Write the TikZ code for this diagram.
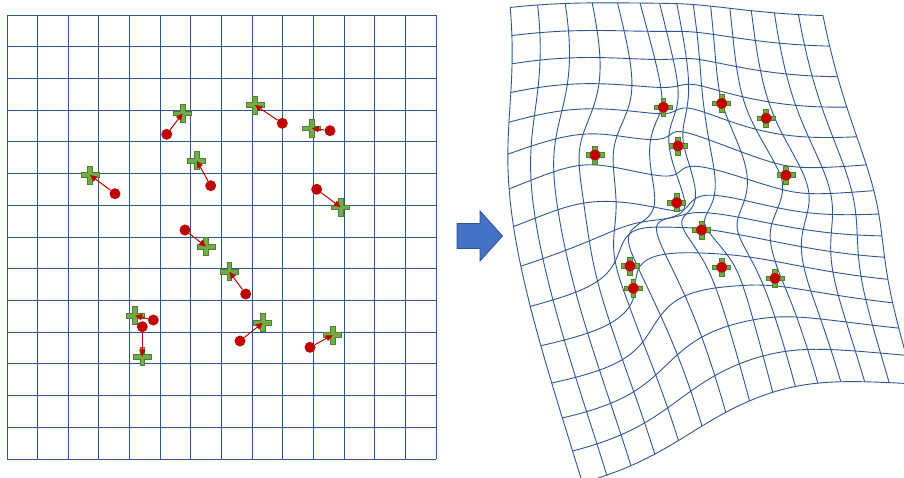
\documentclass[tikz,border=0pt]{standalone}
\usetikzlibrary{arrows.meta}
\definecolor{gridblue}{HTML}{2F5597}
\definecolor{dotred}{HTML}{C00000}
\definecolor{plusgreen}{HTML}{70AD47}
\definecolor{plusdark}{HTML}{507E32}
\definecolor{bigblue}{HTML}{4472C4}
\definecolor{bigdark}{HTML}{2F528F}
\tikzset{
  gridL/.style={draw=gridblue, line width=1pt},
  gridR/.style={draw=gridblue, line width=0.9pt, line join=round},
  reddot/.style={circle, fill=dotred, inner sep=0pt, minimum size=11pt},
  plusmark/.style={rectangle, inner sep=0pt, minimum size=21pt, path picture={
      \draw[plusdark, fill=plusgreen, line width=0.7pt, shift={(path picture bounding box.center)}]
        (-2.4,-9) -- (2.4,-9) -- (2.4,-2.4) -- (9,-2.4) -- (9,2.4) -- (2.4,2.4) -- (2.4,9)
        -- (-2.4,9) -- (-2.4,2.4) -- (-9,2.4) -- (-9,-2.4) -- (-2.4,-2.4) -- cycle;}},
  movearrow/.style={draw=dotred, line width=1pt, -{Triangle[length=7pt,width=6pt]}},
}
\newcommand\tpsdrawline[1]{\draw[gridR] plot[smooth] coordinates {#1};}

\ExplSyntaxOn
\fparray_new:Nn \g_tps_px_fparray {12}
\fparray_new:Nn \g_tps_py_fparray {12}
\fparray_new:Nn \g_tps_qx_fparray {12}
\fparray_new:Nn \g_tps_qy_fparray {12}
\fparray_new:Nn \g_tps_A_fparray {255}
\fparray_new:Nn \g_tps_cx_fparray {15}
\fparray_new:Nn \g_tps_cy_fparray {15}
\int_new:N \l_tps_p_int
\fp_new:N \l_tps_f_fp
\fp_new:N \l_tps_best_fp
\fp_new:N \l_tps_s_fp
\fp_new:N \l_tps_X_fp
\fp_new:N \l_tps_Y_fp
\fp_new:N \g_tps_dxa_fp \fp_new:N \g_tps_dxb_fp \fp_new:N \g_tps_dxc_fp
\fp_new:N \g_tps_dya_fp \fp_new:N \g_tps_dyb_fp \fp_new:N \g_tps_dyc_fp
\clist_map_inline:nn {xx,xy,x,yy,y,n,xu,yu,u,xv,yv,v,det,ca,cb,cc,cd,ce,cf}
 { \fp_new:c {g_tps_s#1_fp} }
\tl_new:N \g_tps_path_tl
\tl_new:N \l_tps_a_tl
\tl_new:N \l_tps_b_tl
\tl_new:N \l_tps_k_tl
\tl_new:N \l_tps_r_tl
\tl_new:N \l_tps_c_tl
\tl_new:N \l_tps_s_tl
\tl_new:N \l_tps_g_tl

\cs_new:Npn \tps_idx:nn #1#2 { ((#1)-1)*17+(#2) }
\cs_new:Npn \tps_A:nn #1#2 { \fparray_item:Nn \g_tps_A_fparray { \tps_idx:nn {#1}{#2} } }
\cs_new_protected:Npn \tps_Aset:nnn #1#2#3
 { \fparray_gset:Nnn \g_tps_A_fparray { \tps_idx:nn {#1}{#2} } {#3} }
\cs_new:Npn \tps_U:n #1 { ( 0.5 * (#1) * ln ( (#1) + 1e-9 ) ) }

\cs_new_protected:Npn \tps_point:nnnnn #1#2#3#4#5
 {
  \fparray_gset:Nnn \g_tps_px_fparray {#1} {#2}
  \fparray_gset:Nnn \g_tps_py_fparray {#1} {#3}
  \fparray_gset:Nnn \g_tps_qx_fparray {#1} {#4}
  \fparray_gset:Nnn \g_tps_qy_fparray {#1} {#5}
 }

\cs_new_protected:Npn \tps_build:
 {
  \int_step_variable:nNn {12} \l_tps_a_tl
   {
    \int_step_variable:nNn {12} \l_tps_b_tl
     {
      \tps_Aset:nnn {\l_tps_a_tl} {\l_tps_b_tl}
       { \tps_U:n { (\fparray_item:Nn \g_tps_px_fparray {\l_tps_a_tl} - \fparray_item:Nn \g_tps_px_fparray {\l_tps_b_tl})^2
                  + (\fparray_item:Nn \g_tps_py_fparray {\l_tps_a_tl} - \fparray_item:Nn \g_tps_py_fparray {\l_tps_b_tl})^2 } }
     }
    \tps_Aset:nnn {\l_tps_a_tl} {13} {1}
    \tps_Aset:nnn {\l_tps_a_tl} {14} { \fparray_item:Nn \g_tps_px_fparray {\l_tps_a_tl} }
    \tps_Aset:nnn {\l_tps_a_tl} {15} { \fparray_item:Nn \g_tps_py_fparray {\l_tps_a_tl} }
    \tps_Aset:nnn {13} {\l_tps_a_tl} {1}
    \tps_Aset:nnn {14} {\l_tps_a_tl} { \fparray_item:Nn \g_tps_px_fparray {\l_tps_a_tl} }
    \tps_Aset:nnn {15} {\l_tps_a_tl} { \fparray_item:Nn \g_tps_py_fparray {\l_tps_a_tl} }
    \tps_Aset:nnn {\l_tps_a_tl} {16} { \fparray_item:Nn \g_tps_qx_fparray {\l_tps_a_tl} }
    \tps_Aset:nnn {\l_tps_a_tl} {17} { \fparray_item:Nn \g_tps_qy_fparray {\l_tps_a_tl} }
   }
 }

\cs_new_protected:Npn \tps_solve:
 {
  \int_step_variable:nNn {15} \l_tps_k_tl
   {
    \int_set:Nn \l_tps_p_int {\l_tps_k_tl}
    \fp_set:Nn \l_tps_best_fp { abs( \tps_A:nn {\l_tps_k_tl}{\l_tps_k_tl} ) }
    \int_step_variable:nnnNn {\l_tps_k_tl + 1} {1} {15} \l_tps_r_tl
     {
      \fp_compare:nNnT { abs( \tps_A:nn {\l_tps_r_tl}{\l_tps_k_tl} ) } > \l_tps_best_fp
       {
        \int_set:Nn \l_tps_p_int {\l_tps_r_tl}
        \fp_set:Nn \l_tps_best_fp { abs( \tps_A:nn {\l_tps_r_tl}{\l_tps_k_tl} ) }
       }
     }
    \int_compare:nNnF {\l_tps_p_int} = {\l_tps_k_tl}
     {
      \int_step_variable:nNn {17} \l_tps_c_tl
       {
        \fp_set:Nn \l_tps_s_fp { \tps_A:nn {\l_tps_k_tl}{\l_tps_c_tl} }
        \tps_Aset:nnn {\l_tps_k_tl}{\l_tps_c_tl} { \tps_A:nn {\l_tps_p_int}{\l_tps_c_tl} }
        \tps_Aset:nnn {\l_tps_p_int}{\l_tps_c_tl} { \l_tps_s_fp }
       }
     }
    \int_step_variable:nnnNn {\l_tps_k_tl + 1} {1} {15} \l_tps_r_tl
     {
      \fp_set:Nn \l_tps_f_fp { \tps_A:nn {\l_tps_r_tl}{\l_tps_k_tl} / \tps_A:nn {\l_tps_k_tl}{\l_tps_k_tl} }
      \int_step_variable:nnnNn {\l_tps_k_tl} {1} {17} \l_tps_c_tl
       {
        \tps_Aset:nnn {\l_tps_r_tl}{\l_tps_c_tl}
         { \tps_A:nn {\l_tps_r_tl}{\l_tps_c_tl} - \l_tps_f_fp * \tps_A:nn {\l_tps_k_tl}{\l_tps_c_tl} }
       }
     }
   }
  \int_step_variable:nnnNn {15} {-1} {1} \l_tps_k_tl
   {
    \fp_set:Nn \l_tps_X_fp { \tps_A:nn {\l_tps_k_tl}{16} }
    \fp_set:Nn \l_tps_Y_fp { \tps_A:nn {\l_tps_k_tl}{17} }
    \int_step_variable:nnnNn {\l_tps_k_tl + 1} {1} {15} \l_tps_c_tl
     {
      \fp_sub:Nn \l_tps_X_fp { \tps_A:nn {\l_tps_k_tl}{\l_tps_c_tl} * \fparray_item:Nn \g_tps_cx_fparray {\l_tps_c_tl} }
      \fp_sub:Nn \l_tps_Y_fp { \tps_A:nn {\l_tps_k_tl}{\l_tps_c_tl} * \fparray_item:Nn \g_tps_cy_fparray {\l_tps_c_tl} }
     }
    \fparray_gset:Nnn \g_tps_cx_fparray {\l_tps_k_tl} { \l_tps_X_fp / \tps_A:nn {\l_tps_k_tl}{\l_tps_k_tl} }
    \fparray_gset:Nnn \g_tps_cy_fparray {\l_tps_k_tl} { \l_tps_Y_fp / \tps_A:nn {\l_tps_k_tl}{\l_tps_k_tl} }
   }
 }

\cs_new_protected:Npn \tps_identity:
 {
  \fp_gset:Nn \g_tps_dxa_fp {1} \fp_gset:Nn \g_tps_dxb_fp {0} \fp_gset:Nn \g_tps_dxc_fp {0}
  \fp_gset:Nn \g_tps_dya_fp {0} \fp_gset:Nn \g_tps_dyb_fp {1} \fp_gset:Nn \g_tps_dyc_fp {0}
 }

\cs_new_protected:Npn \tps_map:nn #1#2
 {
  \fp_set:Nn \l_tps_X_fp { \fparray_item:Nn \g_tps_cx_fparray {13} + \fparray_item:Nn \g_tps_cx_fparray {14} * (#1) + \fparray_item:Nn \g_tps_cx_fparray {15} * (#2) }
  \fp_set:Nn \l_tps_Y_fp { \fparray_item:Nn \g_tps_cy_fparray {13} + \fparray_item:Nn \g_tps_cy_fparray {14} * (#1) + \fparray_item:Nn \g_tps_cy_fparray {15} * (#2) }
  \int_step_variable:nNn {12} \l_tps_a_tl
   {
    \fp_set:Nn \l_tps_f_fp { \tps_U:n { ((#1) - \fparray_item:Nn \g_tps_px_fparray {\l_tps_a_tl})^2 + ((#2) - \fparray_item:Nn \g_tps_py_fparray {\l_tps_a_tl})^2 } }
    \fp_add:Nn \l_tps_X_fp { \fparray_item:Nn \g_tps_cx_fparray {\l_tps_a_tl} * \l_tps_f_fp }
    \fp_add:Nn \l_tps_Y_fp { \fparray_item:Nn \g_tps_cy_fparray {\l_tps_a_tl} * \l_tps_f_fp }
   }
  \fp_set:Nn \l_tps_s_fp { \l_tps_X_fp }
  \fp_set:Nn \l_tps_X_fp { \g_tps_dxa_fp * \l_tps_s_fp + \g_tps_dxb_fp * \l_tps_Y_fp + \g_tps_dxc_fp }
  \fp_set:Nn \l_tps_Y_fp { \g_tps_dya_fp * \l_tps_s_fp + \g_tps_dyb_fp * \l_tps_Y_fp + \g_tps_dyc_fp }
 }

% least-squares affine display fit
\cs_new_protected:Npn \tps_fitzero:
 {
  \clist_map_inline:nn {xx,xy,x,yy,y,n,xu,yu,u,xv,yv,v} { \fp_gzero:c {g_tps_s##1_fp} }
 }
\cs_new_protected:Npn \tps_fitraw:nnnnn #1#2#3#4#5
 {
  \fp_gadd:Nn \g_tps_sxx_fp { (#5) * (#1) * (#1) }
  \fp_gadd:Nn \g_tps_sxy_fp { (#5) * (#1) * (#2) }
  \fp_gadd:Nn \g_tps_sx_fp  { (#5) * (#1) }
  \fp_gadd:Nn \g_tps_syy_fp { (#5) * (#2) * (#2) }
  \fp_gadd:Nn \g_tps_sy_fp  { (#5) * (#2) }
  \fp_gadd:Nn \g_tps_sn_fp  { (#5) }
  \fp_gadd:Nn \g_tps_sxu_fp { (#5) * (#1) * (#3) }
  \fp_gadd:Nn \g_tps_syu_fp { (#5) * (#2) * (#3) }
  \fp_gadd:Nn \g_tps_su_fp  { (#5) * (#3) }
  \fp_gadd:Nn \g_tps_sxv_fp { (#5) * (#1) * (#4) }
  \fp_gadd:Nn \g_tps_syv_fp { (#5) * (#2) * (#4) }
  \fp_gadd:Nn \g_tps_sv_fp  { (#5) * (#4) }
 }
\cs_new_protected:Npn \tps_fitpt:nnnn #1#2#3#4
 {
  \tps_map:nn { 7 + 429 * (#1) / 14 } { 15 + 444 * (#2) / 14 }
  \tps_fitraw:nnnnn { \l_tps_X_fp } { \l_tps_Y_fp } {#3} {#4} {1}
 }
\cs_new_protected:Npn \tps_fitsolve:
 {
  \fp_gset:Nn \g_tps_sca_fp { \g_tps_syy_fp * \g_tps_sn_fp - \g_tps_sy_fp * \g_tps_sy_fp }
  \fp_gset:Nn \g_tps_scb_fp { \g_tps_sx_fp * \g_tps_sy_fp - \g_tps_sxy_fp * \g_tps_sn_fp }
  \fp_gset:Nn \g_tps_scc_fp { \g_tps_sxy_fp * \g_tps_sy_fp - \g_tps_sx_fp * \g_tps_syy_fp }
  \fp_gset:Nn \g_tps_scd_fp { \g_tps_sxx_fp * \g_tps_sn_fp - \g_tps_sx_fp * \g_tps_sx_fp }
  \fp_gset:Nn \g_tps_sce_fp { \g_tps_sxy_fp * \g_tps_sx_fp - \g_tps_sxx_fp * \g_tps_sy_fp }
  \fp_gset:Nn \g_tps_scf_fp { \g_tps_sxx_fp * \g_tps_syy_fp - \g_tps_sxy_fp * \g_tps_sxy_fp }
  \fp_gset:Nn \g_tps_sdet_fp { \g_tps_sxx_fp * \g_tps_sca_fp + \g_tps_sxy_fp * \g_tps_scb_fp + \g_tps_sx_fp * \g_tps_scc_fp }
  \fp_gset:Nn \g_tps_dxa_fp { ( \g_tps_sca_fp * \g_tps_sxu_fp + \g_tps_scb_fp * \g_tps_syu_fp + \g_tps_scc_fp * \g_tps_su_fp ) / \g_tps_sdet_fp }
  \fp_gset:Nn \g_tps_dxb_fp { ( \g_tps_scb_fp * \g_tps_sxu_fp + \g_tps_scd_fp * \g_tps_syu_fp + \g_tps_sce_fp * \g_tps_su_fp ) / \g_tps_sdet_fp }
  \fp_gset:Nn \g_tps_dxc_fp { ( \g_tps_scc_fp * \g_tps_sxu_fp + \g_tps_sce_fp * \g_tps_syu_fp + \g_tps_scf_fp * \g_tps_su_fp ) / \g_tps_sdet_fp }
  \fp_gset:Nn \g_tps_dya_fp { ( \g_tps_sca_fp * \g_tps_sxv_fp + \g_tps_scb_fp * \g_tps_syv_fp + \g_tps_scc_fp * \g_tps_sv_fp ) / \g_tps_sdet_fp }
  \fp_gset:Nn \g_tps_dyb_fp { ( \g_tps_scb_fp * \g_tps_sxv_fp + \g_tps_scd_fp * \g_tps_syv_fp + \g_tps_sce_fp * \g_tps_sv_fp ) / \g_tps_sdet_fp }
  \fp_gset:Nn \g_tps_dyc_fp { ( \g_tps_scc_fp * \g_tps_sxv_fp + \g_tps_sce_fp * \g_tps_syv_fp + \g_tps_scf_fp * \g_tps_sv_fp ) / \g_tps_sdet_fp }
 }

\cs_new_protected:Npn \tps_addpt:
 {
  \tl_gput_right:Nx \g_tps_path_tl
   { ( \fp_eval:n { round(\l_tps_X_fp, 2) } , \fp_eval:n { round(\l_tps_Y_fp, 2) } ) }
 }
\cs_new_protected:Npn \tps_hline:n #1
 {
  \tl_gclear:N \g_tps_path_tl
  \int_step_variable:nnnNn {0} {1} {42} \l_tps_s_tl
   {
    \tps_map:nn { 7 + 429 * \l_tps_s_tl / 42 } { 15 + 444 * (#1) / 14 }
    \tps_addpt:
   }
  \exp_args:NV \tpsdrawline \g_tps_path_tl
 }
\cs_new_protected:Npn \tps_vline:n #1
 {
  \tl_gclear:N \g_tps_path_tl
  \int_step_variable:nnnNn {0} {1} {42} \l_tps_s_tl
   {
    \tps_map:nn { 7 + 429 * (#1) / 14 } { 15 + 444 * \l_tps_s_tl / 42 }
    \tps_addpt:
   }
  \exp_args:NV \tpsdrawline \g_tps_path_tl
 }
\cs_new_protected:Npn \tps_grid:
 {
  \int_step_variable:nnNn {0} {14} \l_tps_g_tl
   {
    \tps_hline:n {\l_tps_g_tl}
    \tps_vline:n {\l_tps_g_tl}
   }
 }

% control points: source dot -> target cross (left panel coordinates)
\tps_point:nnnnn {1}  {166.7} {134.3} {182.7} {113.3}
\tps_point:nnnnn {2}  {115.0} {193.7} {90.0} {175.0}
\tps_point:nnnnn {3}  {210.7} {185.7} {196.7} {160.7}
\tps_point:nnnnn {4}  {282.3} {123.3} {255.0} {105.0}
\tps_point:nnnnn {5}  {330.0} {130.7} {311.7} {128.3}
\tps_point:nnnnn {6}  {316.7} {189.3} {340.7} {207.3}
\tps_point:nnnnn {7}  {185.0} {230.0} {206.0} {246.7}
\tps_point:nnnnn {8}  {245.7} {294.0} {229.3} {271.7}
\tps_point:nnnnn {9}  {153.3} {320.0} {135.0} {315.7}
\tps_point:nnnnn {10} {142.3} {326.7} {142.3} {356.7}
\tps_point:nnnnn {11} {240.0} {341.0} {262.7} {322.7}
\tps_point:nnnnn {12} {310.0} {347.3} {332.7} {335.0}
\tps_build:
\tps_solve:
\tps_identity:
\tps_fitzero:
\clist_map_inline:nn
 { {0}{0}{504}{6},{0}{1}{507}{34},{0}{2}{508}{63},{0}{3}{509}{92},{0}{4}{509}{122},{0}{5}{510}{155},
   {0}{6}{513}{191},{0}{7}{522}{230},{0}{8}{528}{269},{0}{9}{538}{309},{0}{10}{548}{347},{0}{11}{558}{382},
   {0}{12}{568}{415},{0}{13}{575}{444},{0}{14}{583}{475},
   {1}{0}{532}{4},{2}{0}{560}{2},{3}{0}{586}{1},{4}{0}{610}{0},{5}{0}{633}{0},{6}{0}{655}{1},{7}{0}{673}{2},
   {8}{0}{693}{3},{9}{0}{710}{4},{10}{0}{733}{6},{11}{0}{754}{8},{12}{0}{780}{10},{13}{0}{803}{12},{14}{0}{829}{14},
   {14}{1}{837}{44},{14}{2}{844}{75},{14}{3}{853}{104},{14}{4}{861}{135},{14}{5}{870}{165},{14}{6}{875}{190},
   {14}{7}{880}{213},{14}{8}{883}{237},{14}{9}{885}{258},{14}{10}{887}{283},{14}{11}{891}{306},{14}{12}{897}{332},
   {14}{13}{904}{355},
   {1}{14}{608}{467},{2}{14}{628}{460},{3}{14}{652}{450},{4}{14}{673}{436},{5}{14}{697}{420},{6}{14}{722}{407},
   {7}{14}{747}{397},{8}{14}{770}{391},{9}{14}{792}{385},{10}{14}{814}{383},{11}{14}{837}{382},{12}{14}{861}{383},
   {13}{14}{883}{384} }
 { \tps_fitpt:nnnn #1 }
\clist_map_inline:nn
 { {182.7}{113.3}{663.3}{107.3}, {90.0}{175.0}{595.0}{155.0}, {196.7}{160.7}{678.0}{146.0},
   {255.0}{105.0}{721.7}{103.3}, {311.7}{128.3}{766.2}{118.3}, {340.7}{207.3}{786.0}{175.2},
   {206.0}{246.7}{676.7}{202.7}, {229.3}{271.7}{701.5}{230.0}, {135.0}{315.7}{630.0}{266.0},
   {142.3}{356.7}{633.3}{288.3}, {262.7}{322.7}{721.7}{267.3}, {332.7}{335.0}{775.0}{278.3} }
 { \tps_fitraw:nnnnn #1 {3} }
\tps_fitsolve:
\cs_set_eq:NN \DrawWarpedGrid \tps_grid:
\ExplSyntaxOff

\begin{document}
\begin{tikzpicture}[x=1pt,y=-1pt]
\useasboundingbox (0,0) rectangle (904,477);
\fill[white] (0,0) rectangle (904,477);
% left regular grid
\foreach \i in {0,...,14} {
  \draw[gridL] ({7+429*\i/14},15) -- ({7+429*\i/14},459);
  \draw[gridL] (7,{15+444*\i/14}) -- (436,{15+444*\i/14});
}
% target crosses (left)
\node[plusmark] (c1) at (182.7,113.3) {};
\node[plusmark] (c2) at (90,175) {};
\node[plusmark] (c3) at (196.7,160.7) {};
\node[plusmark] (c4) at (255,105) {};
\node[plusmark] (c5) at (311.7,128.3) {};
\node[plusmark] (c6) at (340.7,207.3) {};
\node[plusmark] (c7) at (206,246.7) {};
\node[plusmark] (c8) at (229.3,271.7) {};
\node[plusmark] (c9) at (135,315.7) {};
\node[plusmark] (c10) at (142.3,356.7) {};
\node[plusmark] (c11) at (262.7,322.7) {};
\node[plusmark] (c12) at (332.7,335) {};
% source dots (left)
\node[reddot] (d1) at (166.7,134.3) {};
\node[reddot] (d2) at (115,193.7) {};
\node[reddot] (d3) at (210.7,185.7) {};
\node[reddot] (d4) at (282.3,123.3) {};
\node[reddot] (d5) at (330,130.7) {};
\node[reddot] (d6) at (316.7,189.3) {};
\node[reddot] (d7) at (185,230) {};
\node[reddot] (d8) at (245.7,294) {};
\node[reddot] (d9) at (153.3,320) {};
\node[reddot] (d10) at (142.3,326.7) {};
\node[reddot] (d11) at (240,341) {};
\node[reddot] (d12) at (310,347.3) {};
\foreach \k in {1,...,12} { \draw[movearrow] (d\k) -- (c\k.center); }
% big arrow
\filldraw[fill=bigblue, draw=bigdark, line width=0.8pt]
  (457,223.5) -- (480,223.5) -- (480,211) -- (502.5,236) -- (480,261) -- (480,248.5) -- (457,248.5) -- cycle;
% warped grid
\begin{scope}
\clip (0,0) rectangle (904,477);
\DrawWarpedGrid
\end{scope}
% warped markers
\foreach \k/\px/\py in {1/663.3/107.3, 2/595/155, 3/678/146, 4/721.7/103.3, 5/766.2/118.3, 6/786/175.2,
                       7/676.7/202.7, 8/701.5/230, 9/630/266, 10/633.3/288.3, 11/721.7/267.3, 12/775/278.3} {
  \node[plusmark] (e\k) at (\px,\py) {};
  \node[reddot] (f\k) at (e\k.center) {};
}
\end{tikzpicture}
\end{document}
